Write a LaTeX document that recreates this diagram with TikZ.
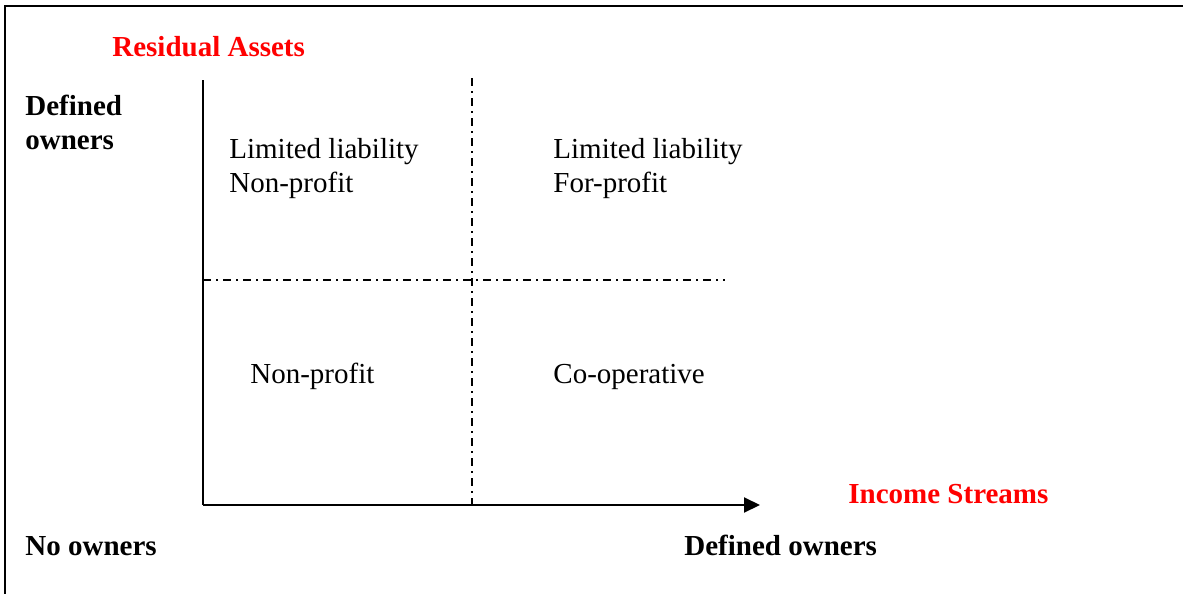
\documentclass[tikz,border=0pt]{standalone}
\usepackage{fontspec}
\setmainfont{Liberation Serif}
\usetikzlibrary{arrows.meta}
\tikzset{
  lbl/.style={anchor=base west, inner sep=0pt, font=\fontsize{14.5}{17}\selectfont, align=left},
  boldlbl/.style={lbl, font=\fontsize{14.5}{17}\selectfont\bfseries},
  redlbl/.style={boldlbl, text={rgb,255:red,255;green,0;blue,0}},
  axisline/.style={line width=1pt},
  divider/.style={line width=0.85pt, dash pattern=on 4pt off 2.6pt on 0.8pt off 2.6pt},
  frameline/.style={line width=1pt}
}
\begin{document}
\begin{tikzpicture}[x=0.5pt, y=-0.5pt]
\useasboundingbox (0,0) rectangle (1183,594);
% frame (left and top edges)
\coordinate (fbl) at (5,594);
\coordinate (ftl) at (5,6);
\coordinate (ftr) at (1183,6);
\draw[frameline] (fbl) -- (ftl) -- (ftr);
% axes
\coordinate (origin) at (203,505);
\coordinate (ytop) at (203,80);
\coordinate (xend) at (760,505);
\draw[axisline] (ytop) -- (origin);
\draw[axisline, -{Triangle[length=8pt, width=7.5pt]}] (origin) -- (xend);
% dividers
\coordinate (vtop) at (472,78);
\coordinate (vbot) at (472,505);
\coordinate (hleft) at (203,280);
\coordinate (hright) at (725,280);
\draw[divider] (vtop) -- (vbot);
\draw[divider] (hleft) -- (hright);
% labels
\node[redlbl] (ra) at (112,56) {Residual Assets};
\node[boldlbl] (dy) at (25,149) {Defined\\owners};
\node[lbl] (q1) at (229,192) {Limited liability\\Non-profit};
\node[lbl] (q2) at (553,192) {Limited liability\\For-profit};
\node[lbl] (q3) at (250,383) {Non-profit};
\node[lbl] (q4) at (553,383) {Co-operative};
\node[redlbl] (is) at (848,503) {Income Streams};
\node[boldlbl] (no) at (25,555) {No owners};
\node[boldlbl] (dx) at (684,555) {Defined owners};
\end{tikzpicture}
\end{document}
